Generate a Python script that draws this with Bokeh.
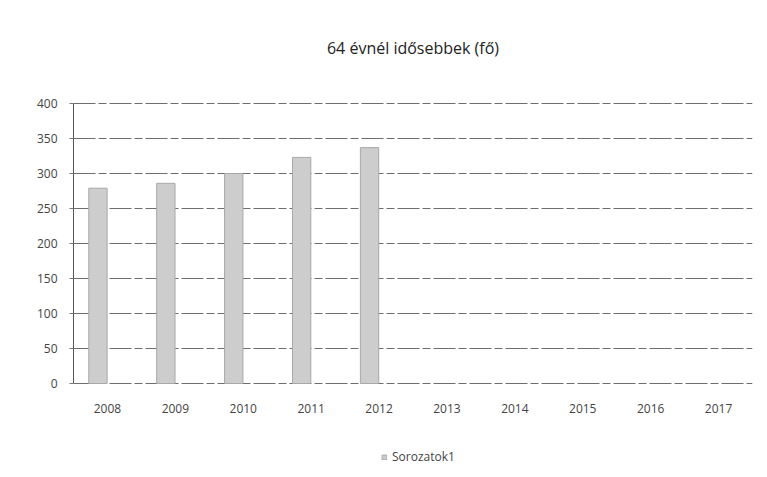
from bokeh.plotting import figure
from bokeh.models import ColumnDataSource, FixedTicker, Legend, LegendItem
from bokeh.transform import dodge
from bokeh.core.properties import value
from bokeh.embed import file_html
from bokeh.resources import INLINE

title_text = "64 évnél idősebbek (fő)"
series_name = "Sorozatok1"
years = ["2008", "2009", "2010", "2011", "2012", "2013", "2014", "2015", "2016", "2017"]
data_years = ["2008", "2009", "2010", "2011", "2012"]
values = [279, 286, 300, 323, 337]
y_ticks = [0, 50, 100, 150, 200, 250, 300, 350, 400]

FONT = "Open Sans"
PX_PER_UNIT = 280 / 400.0
y_lo = -86 / PX_PER_UNIT
y_hi = 400 + 103 / PX_PER_UNIT

src = ColumnDataSource(dict(x=data_years, y=values))

p = figure(x_range=years, y_range=(y_lo, y_hi), width=760, height=469,
           frame_width=679, frame_height=469, x_axis_location=None,
           output_backend="svg", toolbar_location=None,
           min_border_left=73, min_border_right=8, min_border_top=0, min_border_bottom=0)

r = p.vbar(x=dodge("x", -0.14, range=p.x_range), top="y", width=0.27, source=src,
           fill_color="#cdcdcd", line_color="#a8a8a8", line_width=1)

# category labels under the zero line
lab_src = ColumnDataSource(dict(x=years, y=[y_ticks[0]] * len(years), t=years))
p.text(x="x", y="y", text="t", source=lab_src, y_offset=25,
       text_align="center", text_baseline="middle",
       text_font=value(FONT), text_font_size="12px", text_color="#444444")

# chart title
title_src = ColumnDataSource(dict(x=[years[4]], y=[y_ticks[-1]], t=[title_text]))
p.text(x=dodge("x", 0.5, range=p.x_range), y="y", text="t", source=title_src,
       y_offset=-56, text_align="center", text_baseline="middle",
       text_font=value(FONT), text_font_size="16px", text_color="#222222")

p.title.text = ""

p.yaxis.ticker = FixedTicker(ticks=y_ticks)
p.yaxis.bounds = (y_ticks[0], y_ticks[-1])
p.yaxis.major_label_text_font = FONT
p.yaxis.major_label_text_font_size = "12px"
p.yaxis.major_label_text_color = "#444444"
p.yaxis.axis_line_color = "#555555"
p.yaxis.major_tick_line_color = "#777777"
p.yaxis.major_tick_in = 0
p.yaxis.major_tick_out = 4
p.yaxis.minor_tick_line_color = None
p.yaxis.major_label_standoff = 12

p.xgrid.grid_line_color = None
p.ygrid.grid_line_color = "#6e6e6e"
p.ygrid.grid_line_dash = "22 3 8 3"
p.ygrid.grid_line_width = 1
p.outline_line_color = None

legend = Legend(items=[LegendItem(label=series_name, renderers=[r])],
                orientation="horizontal", location=(308, 4),
                label_text_font=FONT, label_text_font_size="12px",
                label_text_color="#444444", glyph_width=6, glyph_height=6,
                border_line_color=None, background_fill_alpha=0, padding=2, margin=0)
p.add_layout(legend, "center")

open("out.html", "w").write(file_html(p, INLINE))
